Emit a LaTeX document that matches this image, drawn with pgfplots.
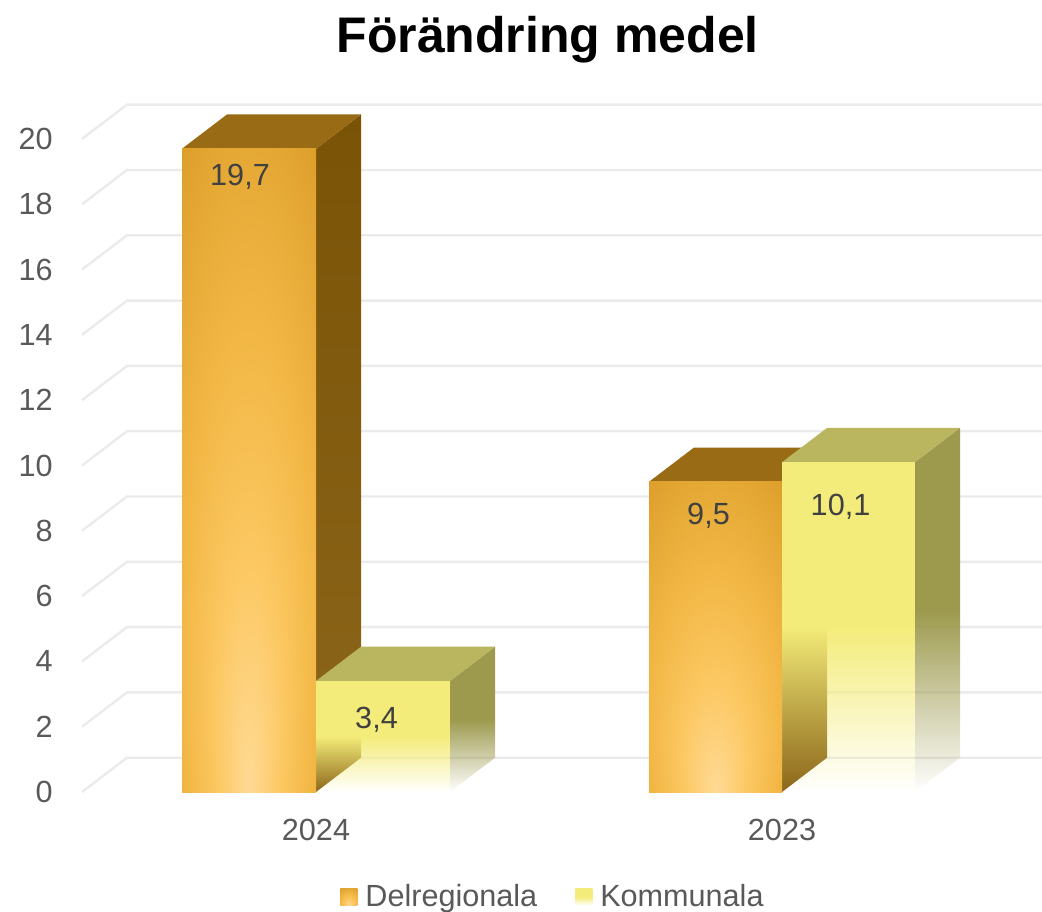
\documentclass[border=0pt]{standalone}
\usepackage{fontspec}
\setmainfont{Liberation Sans}
\usepackage{pgfplots}
\usepackage{pgfplotstable}
\pgfplotsset{compat=1.18}
\usetikzlibrary{fadings}

\definecolor{gridc}{HTML}{EBEBEB}
\definecolor{tickc}{HTML}{595959}
\definecolor{labc}{HTML}{404040}
\definecolor{dA}{HTML}{FFDA95}
\definecolor{dB}{HTML}{FCC862}
\definecolor{dC}{HTML}{F2B745}
\definecolor{dD}{HTML}{E2A532}
\definecolor{dE}{HTML}{D09016}
\definecolor{dF}{HTML}{C8870E}
\definecolor{deltop}{HTML}{996B14}
\definecolor{delsideA}{HTML}{7A5307}
\definecolor{delsideB}{HTML}{8C661A}
\definecolor{komf}{HTML}{F4EC7A}
\definecolor{komtop}{HTML}{BAB660}
\definecolor{komside}{HTML}{9D9A4E}

\pgfdeclareradialshading{delfront}{\pgfpoint{0bp}{-25bp}}{color(0bp)=(dA); color(12.5bp)=(dB); color(25bp)=(dC); color(37.5bp)=(dD); color(50bp)=(dE); color(60bp)=(dF)}
\tikzfading[name=kfade, top color=transparent!0, bottom color=transparent!100, middle color=transparent!0]

\pgfplotstableread{
x y v
240 18.56 19.7
376.5 1.96 3.4
708.5 8.18 9.5
840.5 8.48 10.1
}\labeltab

\begin{document}
\begin{tikzpicture}
\useasboundingbox (0,0) rectangle (521pt,455.5pt);
\begin{axis}[
  at={(41pt,59.5pt)}, anchor=south west,
  scale only axis, width=480pt, height=344pt,
  xmin=82, xmax=1042, ymin=0, ymax=21.07,
  clip=false,
  axis line style={draw=none},
  major tick length=0pt,
  xtick={316,782}, xticklabels={2024,2023},
  ytick={0,2,...,20},
  /pgf/number format/assume math mode=true,
  tick label style={font=\fontsize{15.3}{18}\selectfont, text=tickc, inner sep=0pt},
  yticklabel style={anchor=east, xshift=-14.5pt},
  xticklabel style={anchor=north, yshift=-13.5pt},
  title={Förändring medel},
  title style={at={(axis description cs:0.485,1.058)}, anchor=base, yshift=0pt, font=\fontsize{25}{30}\selectfont\bfseries, inner sep=0pt},
  legend style={at={(axis description cs:0.4896,-0.1526)}, anchor=center, draw=none, fill=none,
    font=\fontsize{15.3}{18}\selectfont, nodes={inner sep=0pt, text=tickc}, inner sep=0pt,
    /tikz/every even column/.append style={column sep=19pt},
    /tikz/every odd column/.append style={column sep=4pt}},
  legend columns=2,
]
\addlegendimage{legend image code/.code={\shade[draw=none, shading=delfront] (0pt,-4.25pt) rectangle (8.5pt,4.25pt);}}
\addlegendentry{Delregionala}
\addlegendimage{legend image code/.code={\shade[draw=none, top color=komf, bottom color=white, middle color=komf] (0pt,-4.25pt) rectangle (8.5pt,4.25pt);}}
\addlegendentry{Kommunala}

% gridlines (front edge, back wall)
\addplot[gridc, line width=1.2pt, forget plot] coordinates {(82,0) (127,1.05) (1042,1.05)};
\addplot[gridc, line width=1.2pt, forget plot] coordinates {(82,2) (127,3.05) (1042,3.05)};
\addplot[gridc, line width=1.2pt, forget plot] coordinates {(82,4) (127,5.05) (1042,5.05)};
\addplot[gridc, line width=1.2pt, forget plot] coordinates {(82,6) (127,7.05) (1042,7.05)};
\addplot[gridc, line width=1.2pt, forget plot] coordinates {(82,8) (127,9.05) (1042,9.05)};
\addplot[gridc, line width=1.2pt, forget plot] coordinates {(82,10) (127,11.05) (1042,11.05)};
\addplot[gridc, line width=1.2pt, forget plot] coordinates {(82,12) (127,13.05) (1042,13.05)};
\addplot[gridc, line width=1.2pt, forget plot] coordinates {(82,14) (127,15.05) (1042,15.05)};
\addplot[gridc, line width=1.2pt, forget plot] coordinates {(82,16) (127,17.05) (1042,17.05)};
\addplot[gridc, line width=1.2pt, forget plot] coordinates {(82,18) (127,19.05) (1042,19.05)};
\addplot[gridc, line width=1.2pt, forget plot] coordinates {(82,20) (127,21.05) (1042,21.05)};

% 2024 Delregionala = 19.7
\addplot[draw=none, top color=delsideA, bottom color=delsideB, forget plot] coordinates {(316,0) (361,1.05) (361,20.75) (316,19.7)} --cycle;
\addplot[draw=none, fill=deltop, forget plot] coordinates {(182,19.7) (316,19.7) (361,20.75) (227,20.75)} --cycle;
\addplot[draw=none, shading=delfront, shade, forget plot] coordinates {(182,0) (316,0) (316,19.7) (182,19.7)} --cycle;
% 2024 Kommunala = 3.4
\addplot[draw=none, fill=komside, path fading=kfade, forget plot] coordinates {(450,0) (495,1.05) (495,4.45) (450,3.4)} --cycle;
\addplot[draw=none, fill=komtop, forget plot] coordinates {(316,3.4) (450,3.4) (495,4.45) (361,4.45)} --cycle;
\addplot[draw=none, fill=komf, path fading=kfade, forget plot] coordinates {(316,0) (450,0) (450,3.4) (316,3.4)} --cycle;
% 2023 Delregionala = 9.5
\addplot[draw=none, top color=delsideA, bottom color=delsideB, forget plot] coordinates {(782,0) (827,1.05) (827,10.55) (782,9.5)} --cycle;
\addplot[draw=none, fill=deltop, forget plot] coordinates {(649,9.5) (782,9.5) (827,10.55) (694,10.55)} --cycle;
\addplot[draw=none, shading=delfront, shade, forget plot] coordinates {(649,0) (782,0) (782,9.5) (649,9.5)} --cycle;
% 2023 Kommunala = 10.1
\addplot[draw=none, fill=komside, path fading=kfade, forget plot] coordinates {(915,0) (960,1.05) (960,11.15) (915,10.1)} --cycle;
\addplot[draw=none, fill=komtop, forget plot] coordinates {(782,10.1) (915,10.1) (960,11.15) (827,11.15)} --cycle;
\addplot[draw=none, fill=komf, path fading=kfade, forget plot] coordinates {(782,0) (915,0) (915,10.1) (782,10.1)} --cycle;

% value labels
\addplot[draw=none, mark=none, forget plot, point meta=explicit,
  nodes near coords={\pgfmathprintnumber[fixed,fixed zerofill,precision=1,use comma]{\pgfplotspointmeta}},
  every node near coord/.append style={anchor=base, inner sep=0pt, text=labc, font=\fontsize{15.3}{18}\selectfont}]
  table[x=x, y=y, meta=v] {\labeltab};
\end{axis}
\end{tikzpicture}
\end{document}
